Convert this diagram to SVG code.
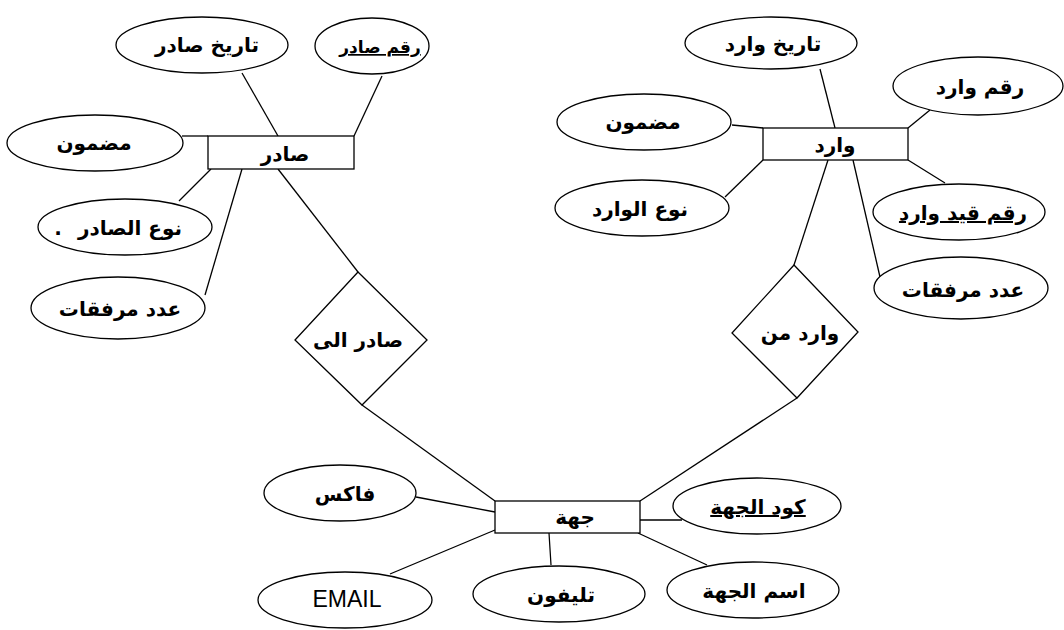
<svg xmlns="http://www.w3.org/2000/svg" width="1064" height="630" viewBox="0 0 1064 630">
<style>
.s{fill:#fff;stroke:#000;stroke-width:1.3}
.l{stroke:#000;stroke-width:1.3;fill:none}
.t{font-family:"DejaVu Sans","Noto Sans",sans-serif;font-size:20px;font-weight:bold;text-anchor:middle;fill:#000}
.u{text-decoration:underline}
.e{font-family:"Liberation Sans",Arial,sans-serif;font-size:23px;text-anchor:middle;fill:#000}
</style>
<rect width="1064" height="630" fill="#fff"/>
<g id="connectors">
<line class="l" x1="242" y1="73" x2="278" y2="136"/>
<line class="l" x1="382" y1="76" x2="354" y2="136"/>
<line class="l" x1="182" y1="136" x2="208" y2="136"/>
<line class="l" x1="211" y1="169" x2="179" y2="201"/>
<line class="l" x1="242" y1="169" x2="205" y2="295"/>
<line class="l" x1="278" y1="169" x2="358" y2="272"/>
<line class="l" x1="362" y1="405" x2="495" y2="501"/>
<line class="l" x1="820" y1="69" x2="835" y2="128"/>
<line class="l" x1="930" y1="110" x2="908" y2="128"/>
<line class="l" x1="732" y1="125" x2="763" y2="128"/>
<line class="l" x1="763" y1="160" x2="725" y2="197"/>
<line class="l" x1="908" y1="160" x2="945" y2="183"/>
<line class="l" x1="853" y1="160" x2="880" y2="277"/>
<line class="l" x1="828" y1="160" x2="794" y2="265"/>
<line class="l" x1="797" y1="398" x2="640" y2="501"/>
<line class="l" x1="416" y1="497" x2="495" y2="512"/>
<line class="l" x1="390" y1="574" x2="495" y2="530"/>
<line class="l" x1="549" y1="533" x2="551" y2="565"/>
<line class="l" x1="638" y1="520" x2="682" y2="520"/>
<line class="l" x1="638" y1="533" x2="707" y2="565"/>
</g>
<g id="sadir">
<rect class="s" x="208" y="136" width="146" height="33"/>
<text class="t" x="285" y="161">صادر</text>
</g>
<g id="sadir-date">
<ellipse class="s" cx="202" cy="45" rx="86" ry="28"/>
<text class="t" x="207" y="52">تاريخ صادر</text>
</g>
<g id="sadir-no">
<ellipse class="s" cx="372" cy="46" rx="57" ry="28"/>
<text class="t u" x="380" y="53" style="font-size:17px">رقم صادر</text>
</g>
<g id="sadir-content">
<ellipse class="s" cx="95" cy="143" rx="88" ry="28"/>
<text class="t" x="94" y="150">مضمون</text>
</g>
<g id="sadir-type">
<ellipse class="s" cx="125" cy="227" rx="87" ry="28"/>
<text class="t" x="130" y="235">نوع الصادر</text>
<text class="t" x="58" y="235">.</text>
</g>
<g id="sadir-attach">
<ellipse class="s" cx="118" cy="308" rx="87" ry="31"/>
<text class="t" x="120" y="316">عدد مرفقات</text>
</g>
<g id="sadir-ila">
<polygon class="s" points="358,272 427,340 362,405 295,340"/>
<text class="t" x="358" y="347">صادر الى</text>
</g>
<g id="warid">
<rect class="s" x="763" y="128" width="145" height="32"/>
<text class="t" x="835" y="152">وارد</text>
</g>
<g id="warid-date">
<ellipse class="s" cx="771" cy="43" rx="86" ry="26"/>
<text class="t" x="773" y="51">تاريخ وارد</text>
</g>
<g id="warid-no">
<ellipse class="s" cx="978" cy="86" rx="85" ry="29"/>
<text class="t" x="980" y="94">رقم وارد</text>
</g>
<g id="warid-content">
<ellipse class="s" cx="644" cy="122" rx="87" ry="28"/>
<text class="t" x="643" y="129">مضمون</text>
</g>
<g id="warid-type">
<ellipse class="s" cx="642" cy="208" rx="87" ry="28"/>
<text class="t" x="640" y="216">نوع الوارد</text>
</g>
<g id="warid-qaid">
<ellipse class="s" cx="959" cy="212" rx="86" ry="28"/>
<text class="t u" x="963" y="220">رقم قيد وارد</text>
</g>
<g id="warid-attach">
<ellipse class="s" cx="961" cy="288" rx="87" ry="31"/>
<text class="t" x="963" y="297">عدد مرفقات</text>
</g>
<g id="warid-min">
<polygon class="s" points="794,265 858,332 797,398 732,333"/>
<text class="t" x="800" y="340">وارد من</text>
</g>
<g id="jiha">
<rect class="s" x="495" y="501" width="145" height="32"/>
<text class="t" x="575" y="524">جهة</text>
</g>
<g id="jiha-fax">
<ellipse class="s" cx="340" cy="493" rx="76" ry="28"/>
<text class="t" x="345" y="501">فاكس</text>
</g>
<g id="jiha-email">
<ellipse class="s" cx="345" cy="600" rx="87" ry="28"/>
<text class="e" x="347" y="607">EMAIL</text>
</g>
<g id="jiha-phone">
<ellipse class="s" cx="559" cy="594" rx="86" ry="28"/>
<text class="t" x="561" y="602">تليفون</text>
</g>
<g id="jiha-code">
<ellipse class="s" cx="757" cy="506" rx="84" ry="28"/>
<text class="t u" x="758" y="514">كود الجهة</text>
</g>
<g id="jiha-name">
<ellipse class="s" cx="753" cy="590" rx="86" ry="28"/>
<text class="t" x="754" y="598">اسم الجهة</text>
</g>
</svg>
